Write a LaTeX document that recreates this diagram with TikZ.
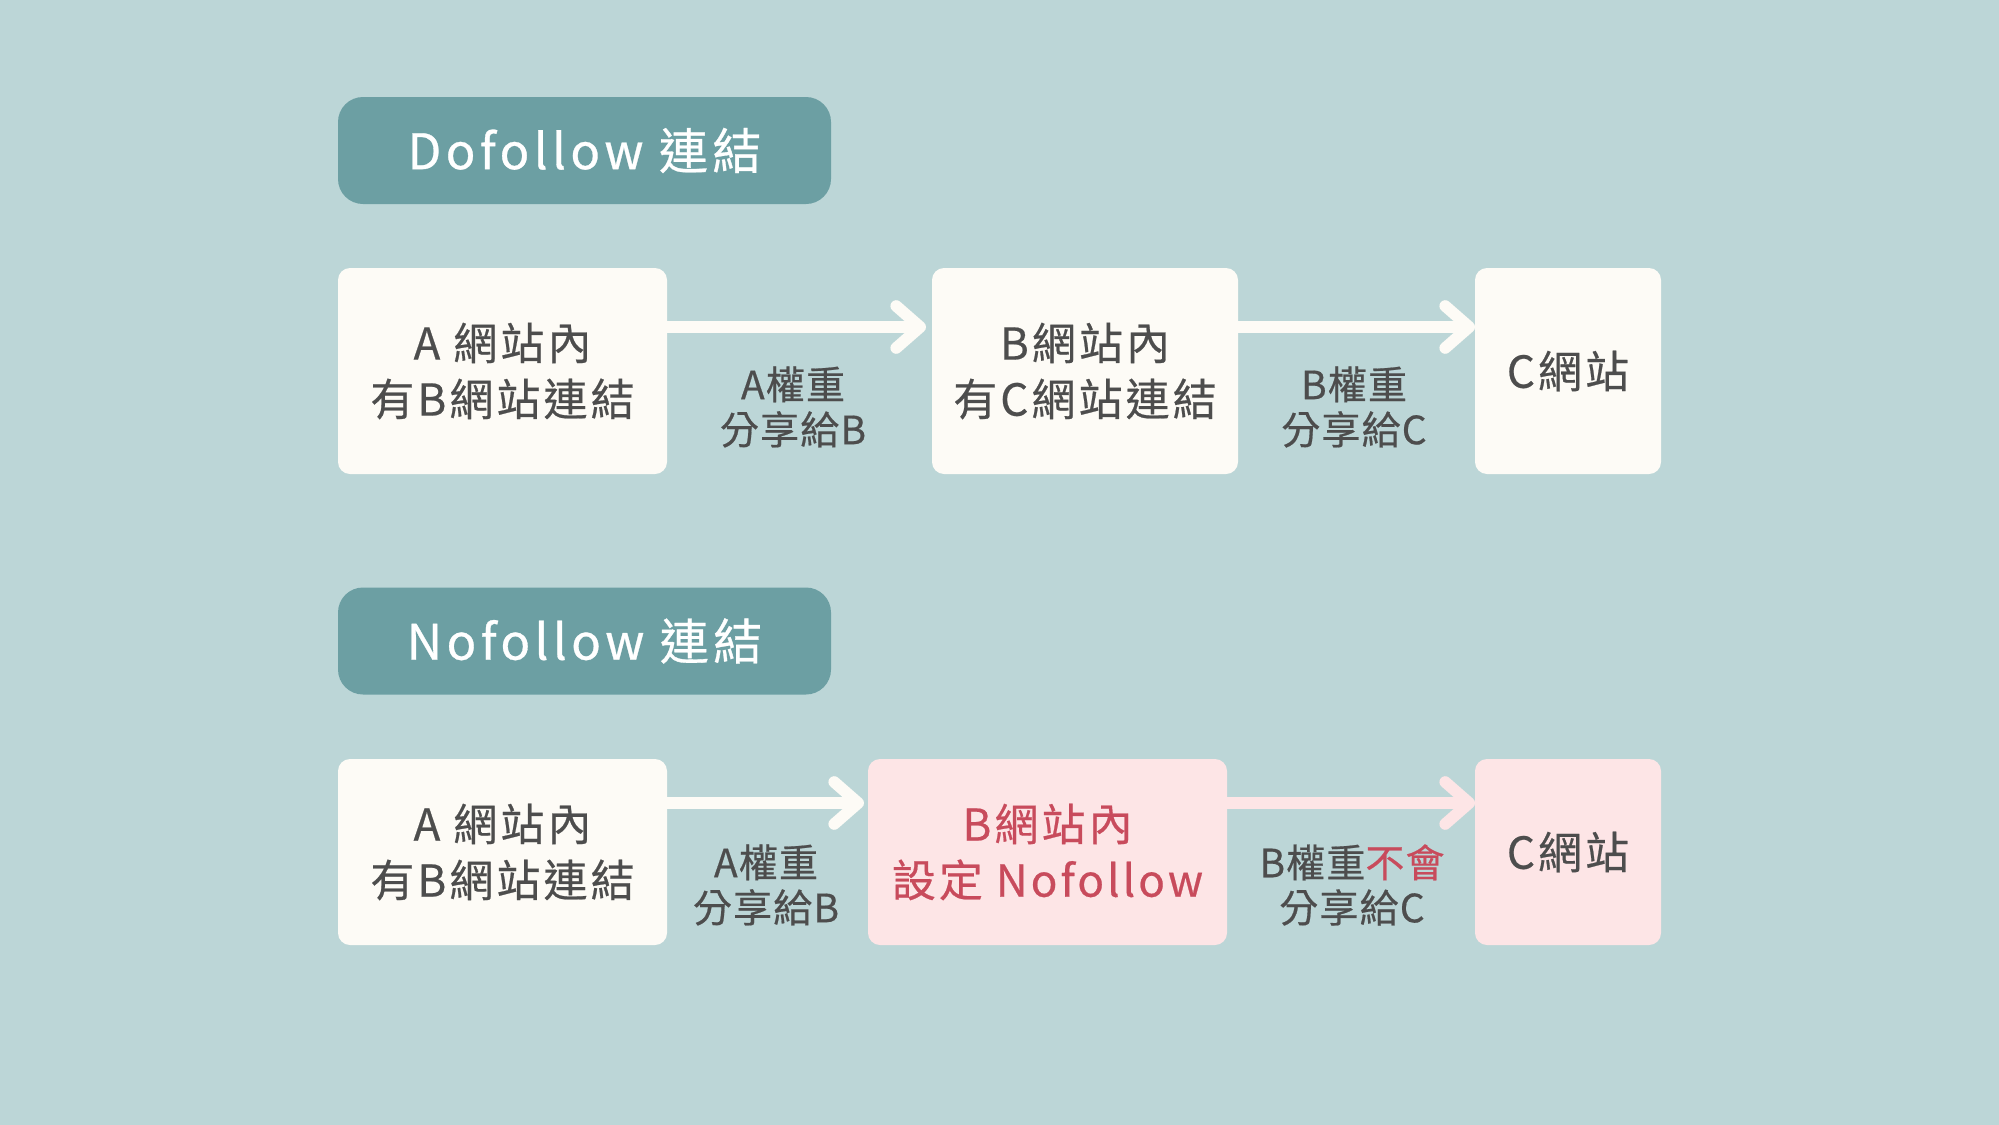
\documentclass[tikz,border=0pt]{standalone}
\usepackage{fontspec}
\setmainfont{Noto Sans CJK TC}[FakeBold=0.5]
\newfontfamily\headfont{Noto Sans CJK TC}[LetterSpace=9, FakeBold=0.6]
\newfontfamily\sitefont{Noto Sans CJK TC}[LetterSpace=7, FakeBold=0.5]
\newfontfamily\sharefont{Noto Sans CJK TC}[LetterSpace=3, FakeBold=0.5]
\usetikzlibrary{arrows.meta}

\definecolor{bgteal}{HTML}{BCD6D7}
\definecolor{headteal}{HTML}{6C9FA3}
\definecolor{cream}{HTML}{FDFBF6}
\definecolor{pinkbox}{HTML}{FDE5E6}
\definecolor{textgray}{HTML}{4D4D4D}
\definecolor{alertred}{HTML}{C84B5C}

\tikzset{
  header/.style = {fill=headteal, text=white, rounded corners=12.5pt,
    minimum width=246.5pt, minimum height=53.5pt, inner sep=0pt, outer sep=0pt,
    font=\headfont\fontsize{24.5}{30}\selectfont},
  site/.style = {fill=cream, text=textgray, rounded corners=6pt, align=center,
    minimum height=103pt, inner sep=0pt, outer sep=0pt,
    font=\sitefont\fontsize{22}{28}\selectfont},
  nosite/.style = {site, fill=pinkbox, minimum height=93pt},
  share/.style = {text=textgray, align=center, inner sep=0pt,
    font=\sharefont\fontsize{19.5}{22.5}\selectfont},
  flow/.style = {draw=cream, line width=5.8pt,
    -{Straight Barb[length=12pt, width=21pt, line cap=round, line join=round]}},
}

\begin{document}
\begin{tikzpicture}[x=0.5pt, y=-0.5pt]
\fill[bgteal] (0,0) rectangle (1999,1125);
\useasboundingbox (0,0) rectangle (1999,1125);

% Dofollow
\node[header] (do) at (584.5,150.5) {Dofollow 連結};
\node[site, minimum width=164.5pt] (a1) at (502.5,371) {A 網站內\\有B網站連結};
\node[site, minimum width=153pt] (b1) at (1085,371) {B網站內\\有C網站連結};
\node[site, minimum width=93pt] (c1) at (1568,371) {C網站};
\node[share] (s1) at (793,407) {A權重\\分享給B};
\node[share] (s2) at (1354,407) {B權重\\分享給C};
\draw[flow] ([yshift=22pt]a1.east) -- ([yshift=22pt,xshift=-3pt]b1.west);
\draw[flow] ([yshift=22pt]b1.east) -- ([yshift=22pt]c1.west);

% Nofollow
\node[header] (no) at (584.5,641) {Nofollow 連結};
\node[site, minimum width=164.5pt, minimum height=93pt] (a2) at (502.5,852) {A 網站內\\有B網站連結};
\node[nosite, minimum width=179.5pt, text=alertred] (b2) at (1047.5,852) {B網站內\\設定 Nofollow};
\node[nosite, minimum width=93pt] (c2) at (1568,852) {C網站};
\node[share] (s3) at (766,885) {A權重\\分享給B};
\node[share] (s4) at (1352,885) {B權重\textcolor{alertred}{不會}\\分享給C};
\draw[flow] ([yshift=24.5pt]a2.east) -- ([yshift=24.5pt,xshift=-2pt]b2.west);
\draw[flow, draw=pinkbox] ([yshift=24.5pt]b2.east) -- ([yshift=24.5pt]c2.west);
\end{tikzpicture}
\end{document}
